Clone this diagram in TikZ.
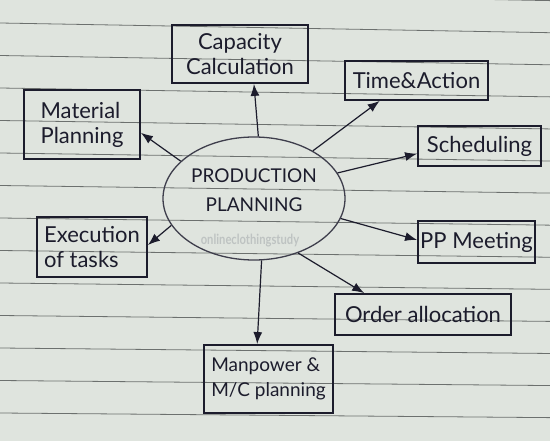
\documentclass[tikz,border=0pt]{standalone}
\usepackage{fontspec}
\setmainfont{Lato}
\newfontfamily\wmfont[FakeStretch=0.8]{Lato}
\usetikzlibrary{shapes.geometric,arrows.meta}
\definecolor{paper}{RGB}{223,228,222}
\definecolor{rule}{RGB}{108,112,110}
\definecolor{ink}{RGB}{28,28,44}
\definecolor{wmark}{RGB}{190,195,194}
\tikzstyle{box} = [draw=ink, line width=1.8pt, rectangle, text=ink,
    inner sep=0pt, font=\fontsize{22}{25}\selectfont]
\tikzstyle{hub} = [draw=ink!85, line width=1.3pt, ellipse, inner sep=0pt,
    minimum width=182pt, minimum height=123pt]
\tikzstyle{link} = [draw=ink, line width=1.2pt, ->]

\begin{document}
\begin{tikzpicture}[x=1pt, y=-1pt, >={Latex[length=12pt,width=9pt]}]
    \fill [paper] (0,0) rectangle (550,441);
    \useasboundingbox (0,0) rectangle (550,441);
    \foreach \y in {-9.5,23,...,446}
        \draw [rule, line width=0.8pt] (0,\y) -- (550,{10+0.987*\y});
    \node [hub, label={[yshift=8pt, align=center, text=ink,
        font=\fontsize{19}{29}\selectfont]center:PRODUCTION\\PLANNING}] (pp) at (254,198.5) {};
    \node [text=wmark, font=\wmfont\bfseries\fontsize{14}{14}\selectfont] (wm) at (250,241) {onlineclothingstudy};
    \node [box, minimum width=136pt, minimum height=58pt, align=center] (cap) at (240,54) {Capacity\\Calculation};
    \node [box, minimum width=143pt, minimum height=39pt] (time) at (416.5,80.5) {Time\&Action};
    \node [box, minimum width=116pt, minimum height=69pt, align=left] (mat) at (82,124.5) {Material\\Planning};
    \node [box, minimum width=123pt, minimum height=40pt] (sched) at (479.5,146) {Scheduling};
    \node [box, minimum width=110pt, minimum height=60pt, align=left] (exec) at (92,247) {Execution\\of tasks};
    \node [box, minimum width=117pt, minimum height=42pt] (ppm) at (476.5,242) {PP Meeting};
    \node [box, minimum width=176pt, minimum height=41pt] (order) at (423,314.5) {Order allocation};
    \node [box, minimum width=129pt, minimum height=68pt, align=left,
        font=\fontsize{19}{25}\selectfont] (man) at (268.5,379) {Manpower \&\\M/C planning};
    \draw [link] (pp.86) -- (cap.-65);
    \draw [link] (pp.39) -- (time.209);
    \draw [link] (pp.17) -- (sched.187);
    \draw [link] (pp.-13) -- (ppm.178);
    \draw [link] (pp.-51) -- (order.160);
    \draw [link] (pp.-83) -- (man.108);
    \draw [link] (pp.198) -- (exec.2);
    \draw [link] (pp.153) -- (mat.-8);
\end{tikzpicture}
\end{document}
